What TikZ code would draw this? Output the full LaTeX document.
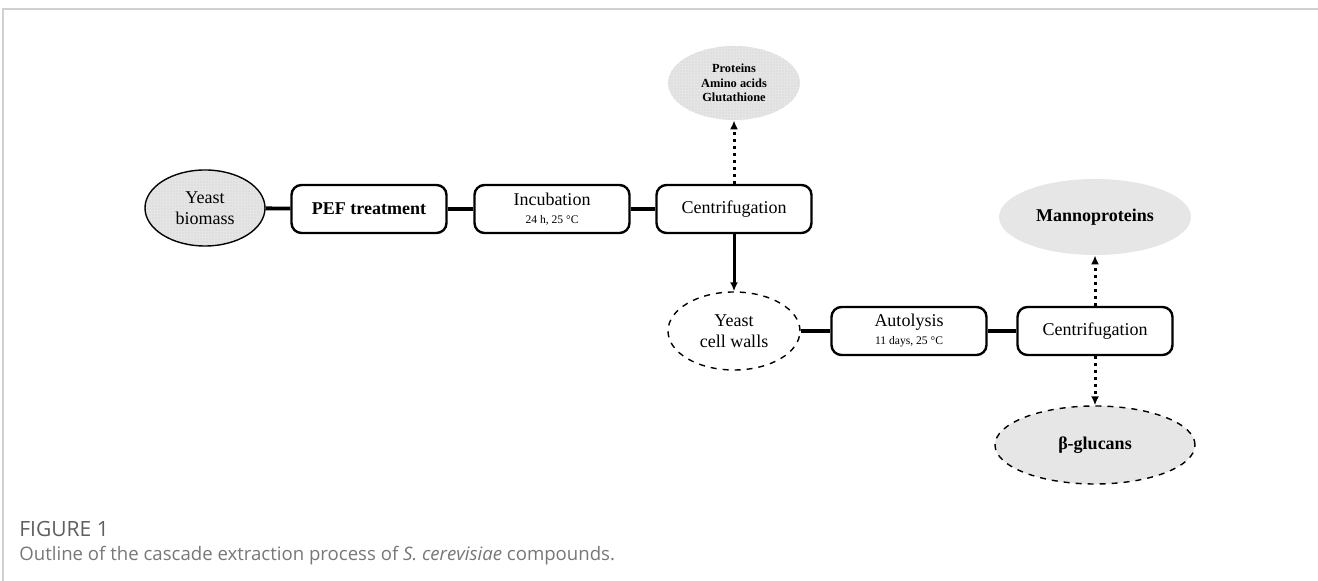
\documentclass[tikz,border=0pt]{standalone}
\usepackage{fontspec}
\setmainfont{Liberation Serif}
\newfontfamily\capfont{Open Sans}
\usepackage{tikz}
\usetikzlibrary{positioning, arrows.meta, shapes.geometric, patterns.meta}
\definecolor{frameGray}{RGB}{208, 208, 208}
\definecolor{fillGray}{RGB}{230, 230, 230}
\definecolor{grainGray}{RGB}{165, 165, 165}
\definecolor{capGray}{RGB}{95, 95, 95}

\begin{document}
\begin{tikzpicture}[
        x=0.5pt, y=-0.5pt,
        font=\fontsize{9}{10.5}\selectfont,
        b/.style={rectangle, rounded corners=5pt, draw, line width=1.2pt, fill=white, align=center,
            minimum width=77.5pt, minimum height=24pt, inner sep=2pt},
        el/.style={ellipse, align=center, inner sep=0pt},
        grain/.style={fill=white!90!black, postaction={pattern={Dots[distance=1.5pt, radius=0.22pt]},
            pattern color=grainGray}},
        link/.style={line width=1.9pt},
        arr/.style={-{Latex[length=4.5pt, width=4pt]}, line width=1.5pt},
        darr/.style={arr, dotted}
    ]
    \useasboundingbox (0,0) rectangle (1318,581);
    % frame of the figure
    \draw[frameGray, line width=1pt] (3,581) -- (3,9) -- (1318,9);

    % first row
    \node[el, grain, draw, line width=0.7pt, minimum width=60pt, minimum height=38pt] (bio) at (205,208) {Yeast\\biomass};
    \node[b] (pef) at (369,209) {\textbf{PEF treatment}};
    \node[b] (incu) at (552,209) {Incubation\\[-1.5pt]{\fontsize{5.8}{7}\selectfont 24 h, 25 °C}};
    \node[b] (cen1) at (734,209) {Centrifugation};
    \node[el, grain, minimum width=66pt, minimum height=37pt, font=\fontsize{6.2}{7.3}\selectfont\bfseries] (prod) at (734,83) {Proteins\\Amino acids\\Glutathione};

    % second row
    \node[el, draw, dashed, line width=0.7pt, fill=white, minimum width=66pt, minimum height=39pt] (walls) at (734,331) {Yeast\\cell walls};
    \node[b] (auto) at (909,331) {Autolysis\\[-1.5pt]{\fontsize{5.8}{7}\selectfont 11 days, 25 °C}};
    \node[b] (cen2) at (1095,331) {Centrifugation};
    \node[el, fill=fillGray, minimum width=96pt, minimum height=38pt, font=\fontsize{9}{10.5}\selectfont\bfseries] (manno) at (1095,217) {Mannoproteins};
    \node[el, draw, dashed, line width=0.7pt, fill=fillGray, minimum width=100pt, minimum height=39pt, font=\fontsize{9}{10.5}\selectfont\bfseries] (glucan) at (1095,445) {β-glucans};

    \draw[link] (bio) -- (pef);
    \draw[link] (pef) -- (incu);
    \draw[link] (incu) -- (cen1);
    \draw[link] (walls) -- (auto);
    \draw[link] (auto) -- (cen2);
    \draw[darr] (cen1) -- (prod);
    \draw[arr] (cen1) -- (walls);
    \draw[darr] (cen2) -- (manno);
    \draw[darr] (cen2) -- (glucan);

    % caption
    \node[anchor=west, inner sep=0pt, text=capGray, font=\capfont\fontsize{10.5}{12}\selectfont] (fig) at (19,529) {FIGURE 1};
    \node[anchor=west, inner sep=0pt, text=capGray!85, font=\capfont\fontsize{9.3}{11}\selectfont] (capt) at (19,556)
        {Outline of the cascade extraction process of \textit{S. cerevisiae} compounds.};
\end{tikzpicture}
\end{document}
